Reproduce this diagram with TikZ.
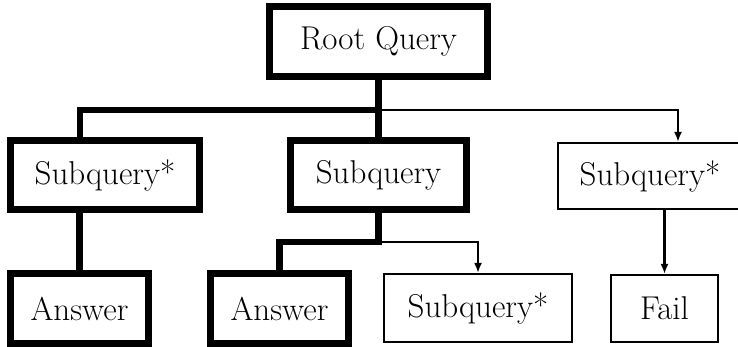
\documentclass[tikz,border=0pt]{standalone}
\usepackage{fontspec}
\usetikzlibrary{arrows.meta}
\tikzset{
  box/.style={draw, rectangle, inner sep=0pt, align=center,
    font=\fontsize{33}{40}\selectfont},
  heavybox/.style={box, line width=6.8pt},
  lightbox/.style={box, line width=2.4pt},
  heavy/.style={line width=6.8pt},
  light/.style={line width=2.4pt, -{Latex[length=10pt,width=8pt]}},
}
\begin{document}
\begin{tikzpicture}[x=1pt, y=-1pt]
  \useasboundingbox (0,0) rectangle (738,347);

  % tree nodes
  \node[heavybox, minimum width=217.5pt, minimum height=70.5pt] (root) at (378.5,41.5) {Root Query};
  \node[heavybox, minimum width=189.5pt, minimum height=69.5pt] (sq1) at (105,175) {Subquery*};
  \node[heavybox, minimum width=176.5pt, minimum height=69.5pt] (sq2) at (378.5,175) {Subquery};
  \node[lightbox, minimum width=184pt, minimum height=65.8pt] (sq3) at (650,176) {Subquery*};
  \node[heavybox, minimum width=138.5pt, minimum height=70.5pt] (ans1) at (79.5,308.5) {Answer};
  \node[heavybox, minimum width=138.5pt, minimum height=70.5pt] (ans2) at (279.5,308.5) {Answer};
  \node[lightbox, minimum width=187.8pt, minimum height=67.8pt] (sq4) at (478,308) {Subquery*};
  \node[lightbox, minimum width=106.8pt, minimum height=66.8pt] (fail) at (664.5,308.5) {Fail};

  % branching points and entry columns
  \coordinate (busA) at (378.5,110);
  \coordinate (busB) at (378.5,242);
  \coordinate (sq1in) at (80,0);
  \coordinate (sq3in) at (678,0);

  % edges from the root
  \draw[heavy] (root.south) -- (busA) -| (sq1in |- sq1.north);
  \draw[heavy] (root.south) -- (sq2.north);
  \draw[light] (busA) -| (sq3in |- sq3.north);

  % edges from the second level
  \draw[heavy] (sq1.south -| ans1.north) -- (ans1.north);
  \draw[heavy] (sq2.south) -- (busB) -| (ans2.north);
  \draw[light] (busB) -| (sq4.north);
  \draw[light] (sq3.south -| fail.north) -- (fail.north);
\end{tikzpicture}
\end{document}
